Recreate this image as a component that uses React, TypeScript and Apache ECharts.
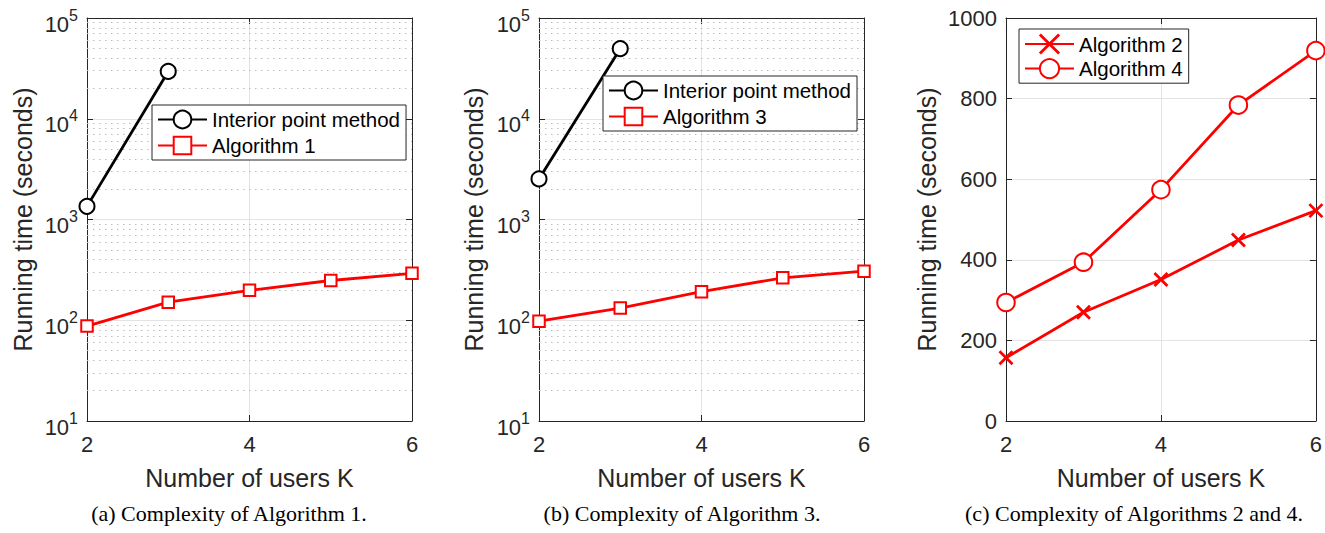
import React, { useEffect, useRef } from 'react';
import * as echarts from 'echarts';

const SANS = '"Liberation Sans", Arial, Helvetica, sans-serif';
const SERIF = '"Liberation Serif", "Times New Roman", serif';
const AX = '#262626';
const RED = '#ff0000';
const BLACK = '#000000';

// Data
const K = [2, 3, 4, 5, 6];
const K_IPM = [2, 3];
const ipmA = [1350, 29500];
const alg1 = [87.5, 151, 198, 248, 292];
const ipmB = [2530, 49600];
const alg3 = [98, 132, 192, 264, 307];
const alg2 = [157, 270, 351, 449, 522];
const alg4 = [294, 394, 574, 784, 919];

// Axis ticks / grid values
const decades = [10, 100, 1000, 10000];
const minorMult = [2, 3, 4, 5, 6, 7, 8, 9];
const captions = [
  '(a) Complexity of Algorithm 1.',
  '(b) Complexity of Algorithm 3.',
  '(c) Complexity of Algorithms 2 and 4.',
];
const captionX = [229, 682, 1134];
const yTitle = 'Running time (seconds)';
const xTitle = 'Number of users K';

const grids = [
  { left: 87, top: 18, width: 325, height: 403 },
  { left: 539, top: 18, width: 325, height: 403 },
  { left: 1006, top: 18, width: 311, height: 403 },
];
const yNameGaps = [52, 53, 67];

const pairs = (xs: number[], ys: number[]) => xs.map((x, i) => [x, ys[i]]);

const minorVals: number[] = [];
decades.forEach((d) => minorMult.forEach((m) => minorVals.push(d * m)));

const X_PATH = 'path://M0,0L10,10M10,0L0,10';
const TICK_FS = 22;

function buildOption() {
  const xAxis: any[] = [];
  const yAxis: any[] = [];
  grids.forEach((g, i) => {
    xAxis.push({
      gridIndex: i,
      type: 'value',
      min: 2,
      max: 6,
      interval: 2,
      position: 'bottom',
      axisLine: { show: true, onZero: false, lineStyle: { color: AX, width: 1 } },
      axisTick: { show: true, inside: true, length: 6, lineStyle: { color: AX } },
      axisLabel: {
        color: AX,
        fontSize: TICK_FS,
        fontFamily: SANS,
        margin: 12,
        formatter: (v: number) => String(v),
      },
      splitLine: { show: true, lineStyle: { color: '#e3e3e3', width: 1 } },
      name: xTitle,
      nameLocation: 'middle',
      nameGap: 44,
      nameTextStyle: { fontSize: 25, fontFamily: SANS, color: AX },
    });
    xAxis.push({
      gridIndex: i,
      type: 'value',
      min: 2,
      max: 6,
      interval: 2,
      position: 'top',
      axisLine: { show: true, onZero: false, lineStyle: { color: AX, width: 1 } },
      axisTick: { show: true, inside: true, length: 6, lineStyle: { color: AX } },
      axisLabel: { show: false },
      splitLine: { show: false },
    });
    const isLog = i < 2;
    const common: any = isLog
      ? { type: 'log', logBase: 10, min: 10, max: 100000 }
      : { type: 'value', min: 0, max: 1000, interval: 200 };
    yAxis.push({
      gridIndex: i,
      ...common,
      position: 'left',
      axisLine: { show: true, onZero: false, lineStyle: { color: AX, width: 1 } },
      axisTick: { show: true, inside: true, length: 6, lineStyle: { color: AX } },
      axisLabel: isLog
        ? {
            formatter: (v: number) => `{b|10}{s|${Math.round(Math.log10(v))}}`,
            margin: 9,
            fontSize: TICK_FS,
            fontFamily: SANS,
            color: AX,
            rich: {
              b: { fontSize: TICK_FS, fontFamily: SANS, color: AX, padding: [12, 0, 0, 0] },
              s: { fontSize: 16, fontFamily: SANS, color: AX, padding: [0, 0, 6, 0] },
            },
          }
        : {
            color: AX,
            fontSize: TICK_FS,
            fontFamily: SANS,
            margin: 9,
            formatter: (v: number) => String(v),
          },
      splitLine: { show: true, lineStyle: { color: '#e3e3e3', width: 1 } },
      name: yTitle,
      nameLocation: 'middle',
      nameGap: yNameGaps[i],
      nameTextStyle: { fontSize: 25, fontFamily: SANS, color: AX },
    });
    yAxis.push({
      gridIndex: i,
      ...common,
      position: 'right',
      axisLine: { show: true, onZero: false, lineStyle: { color: AX, width: 1 } },
      axisTick: { show: true, inside: true, length: 6, lineStyle: { color: AX } },
      axisLabel: { show: false },
      splitLine: { show: false },
    });
  });

  const minorGrid = (i: number) => ({
    type: 'line',
    xAxisIndex: 2 * i,
    yAxisIndex: 2 * i,
    data: [],
    silent: true,
    z: 1,
    markLine: {
      silent: true,
      z: 1,
      symbol: ['none', 'none'],
      label: { show: false },
      lineStyle: { type: [1.5, 4.5], color: '#bdbdbd', width: 1.2 },
      data: minorVals.map((v) => ({ yAxis: v })),
    },
  });

  const line = (
    name: string,
    i: number,
    data: number[][],
    color: string,
    symbol: string,
    size: number
  ) => ({
    name,
    type: 'line',
    xAxisIndex: 2 * i,
    yAxisIndex: 2 * i,
    data,
    symbol,
    symbolSize: size,
    showAllSymbol: true,
    z: 3,
    lineStyle: { color, width: 2.8 },
    itemStyle: { color, borderColor: color, borderWidth: 2.8 },
  });

  const legendBase = {
    orient: 'vertical',
    itemWidth: 49,
    itemHeight: 22,
    itemGap: 5,
    padding: [4, 6, 4, 5],
    borderColor: AX,
    borderWidth: 1,
    borderRadius: 0,
    backgroundColor: '#ffffff',
    selectedMode: false,
    textStyle: { fontSize: 20.5, fontFamily: SANS, color: BLACK },
  };

  return {
    animation: false,
    backgroundColor: '#ffffff',
    grid: grids.map((g) => ({ ...g, containLabel: false })),
    xAxis,
    yAxis,
    legend: [
      { ...legendBase, left: 152, top: 105, data: ['Interior point method', 'Algorithm 1'] },
      { ...legendBase, left: 603, top: 76, data: ['Interior point method', 'Algorithm 3'] },
      {
        ...legendBase,
        left: 1019,
        top: 29,
        itemHeight: 24,
        itemGap: 3,
        itemStyle: { borderWidth: 2.8 },
        data: ['Algorithm 2', 'Algorithm 4'],
      },
    ],
    series: [
      minorGrid(0),
      minorGrid(1),
      line('Interior point method', 0, pairs(K_IPM, ipmA), BLACK, 'emptyCircle', 15),
      line('Algorithm 1', 0, pairs(K, alg1), RED, 'emptyRect', 11.5),
      line('Interior point method', 1, pairs(K_IPM, ipmB), BLACK, 'emptyCircle', 15),
      line('Algorithm 3', 1, pairs(K, alg3), RED, 'emptyRect', 11.5),
      line('Algorithm 2', 2, pairs(K, alg2), RED, X_PATH, 13),
      line('Algorithm 4', 2, pairs(K, alg4), RED, 'emptyCircle', 17.5),
    ],
    graphic: captions.map((t, i) => ({
      type: 'text',
      x: captionX[i],
      y: 513,
      style: {
        text: t,
        fontSize: 22,
        fontFamily: SERIF,
        fill: BLACK,
        align: 'center',
        verticalAlign: 'middle',
      },
    })),
  };
}

export default function App() {
  const ref = useRef<HTMLDivElement>(null);
  useEffect(() => {
    if (!ref.current) return;
    const chart = echarts.init(ref.current, undefined, { renderer: 'svg' });
    chart.setOption(buildOption() as any);
    return () => chart.dispose();
  }, []);
  return (
    <div
      ref={ref}
      style={{ position: 'fixed', left: 0, top: 0, width: 1325, height: 533, background: '#fff' }}
    />
  );
}
